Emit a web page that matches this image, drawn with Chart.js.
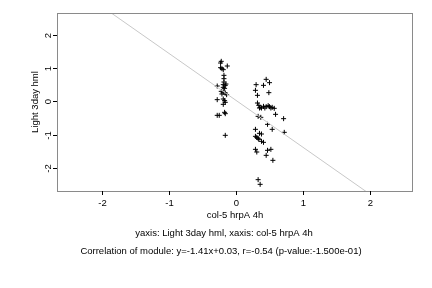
<!DOCTYPE html>
<html>
<head>
<meta charset="utf-8">
<script src="https://cdn.jsdelivr.net/npm/chart.js@4"></script>
<style>
  html, body { margin: 0; padding: 0; background: #fff; }
  #wrap { width: 432px; height: 288px; }
</style>
</head>
<body>
<div id="wrap"><canvas id="plot" width="432" height="288"></canvas></div>
<script>
// values
const xValues = [
  -0.22, -0.23, -0.13, -0.23, -0.21, -0.19, -0.18, -0.18, -0.18, -0.28,
  -0.19, -0.16, -0.15, -0.19, -0.17, -0.22, -0.19, -0.16, -0.21, -0.14,
  -0.28, -0.19, -0.17, -0.16, -0.19, -0.28, -0.25, -0.17, -0.16, -0.16,
  0.45, 0.50, 0.30, 0.41, 0.29, 0.49, 0.32, 0.32, 0.34, 0.36,
  0.38, 0.41, 0.43, 0.45, 0.48, 0.50, 0.52, 0.54, 0.57, 0.35,
  0.59, 0.71, 0.33, 0.37, 0.47, 0.54, 0.29, 0.35, 0.38, 0.72,
  0.29, 0.31, 0.33, 0.34, 0.38, 0.41, 0.29, 0.31, 0.47, 0.52,
  0.45, 0.55, 0.33, 0.36
];
const yValues = [
  1.20, 1.15, 1.06, 1.01, 0.98, 0.95, 0.78, 0.68, 0.58, 0.46,
  0.50, 0.48, 0.52, 0.42, 0.39, 0.30, 0.27, 0.25, 0.22, 0.20,
  0.05, 0.07, 0.02, -0.03, -0.09, -0.42, -0.42, -0.33, -0.37, -1.02,
  0.66, 0.56, 0.50, 0.48, 0.33, 0.26, 0.18, -0.05, -0.12, -0.18,
  -0.20, -0.15, -0.20, -0.16, -0.13, -0.16, -0.20, -0.18, -0.21, -0.20,
  -0.39, -0.52, -0.45, -0.48, -0.69, -0.84, -0.84, -0.96, -0.98, -0.93,
  -1.05, -1.08, -1.11, -1.14, -1.20, -1.23, -1.44, -1.52, -1.47, -1.44,
  -1.62, -1.77, -2.35, -2.49
];
// fitted line y = -1.41x + 0.03, endpoints at the plot edges
const fitX = [-2.67, 2.64];
const fitY = [3.79, -3.69];
const xTicks = [-2, -1, 0, 1, 2];
const yTicks = [-2, -1, 0, 1, 2];
const xTitle = 'col-5 hrpA 4h';
const yTitle = 'Light 3day hml';
const subTitle1 = 'yaxis: Light 3day hml, xaxis: col-5 hrpA 4h';
const subTitle2 = 'Correlation of module: y=-1.41x+0.03, r=-0.54 (p-value:-1.500e-01)';

const FONT = '9.5px "Liberation Sans", Arial, sans-serif';

const rAxes = {
  id: 'rAxes',
  afterDraw(chart) {
    const ctx = chart.ctx;
    const a = chart.chartArea;
    const xs = chart.scales.x, ys = chart.scales.y;
    ctx.save();
    // box
    ctx.strokeStyle = '#8a8a8a';
    ctx.lineWidth = 1;
    ctx.strokeRect(a.left + 0.5, a.top + 0.5, a.right - a.left - 1, a.bottom - a.top);
    ctx.strokeStyle = '#000';
    ctx.fillStyle = '#000';
    ctx.font = FONT;
    // x axis ticks
    ctx.textAlign = 'center';
    ctx.textBaseline = 'middle';
    xTicks.forEach(v => {
      const px = Math.round(xs.getPixelForValue(v)) + 0.5;
      ctx.beginPath();
      ctx.moveTo(px, a.bottom);
      ctx.lineTo(px, a.bottom + 4);
      ctx.stroke();
      ctx.fillText(String(v), px, 203.5);
    });
    // y axis ticks, labels rotated like R
    yTicks.forEach(v => {
      const py = Math.round(ys.getPixelForValue(v)) + 0.5;
      ctx.beginPath();
      ctx.moveTo(a.left, py);
      ctx.lineTo(a.left - 4, py);
      ctx.stroke();
      ctx.save();
      ctx.translate(48, py);
      ctx.rotate(-Math.PI / 2);
      ctx.fillText(String(v), 0, 0);
      ctx.restore();
    });
    // titles
    const cx = (a.left + a.right) / 2;
    ctx.fillText(xTitle, cx, 215);
    ctx.fillText(subTitle1, 224, 233);
    ctx.fillText(subTitle2, 221, 251);
    ctx.save();
    ctx.translate(35, (a.top + a.bottom) / 2);
    ctx.rotate(-Math.PI / 2);
    ctx.fillText(yTitle, 0, 0);
    ctx.restore();
    ctx.restore();
  }
};

new Chart(document.getElementById('plot'), {
  type: 'scatter',
  data: {
    datasets: [
      {
        label: 'fit',
        type: 'line',
        data: fitX.map((x, i) => ({ x: x, y: fitY[i] })),
        borderColor: '#c8c8c8',
        borderWidth: 1,
        pointRadius: 0,
        fill: false
      },
      {
        label: 'genes',
        data: xValues.map((x, i) => ({ x: x, y: yValues[i] })),
        pointStyle: 'cross',
        pointRadius: 2.5,
        borderColor: '#000',
        borderWidth: 1
      }
    ]
  },
  plugins: [rAxes],
  options: {
    responsive: false,
    animation: false,
    events: [],
    layout: { padding: { top: 13, right: 19, left: 0, bottom: 0 } },
    plugins: { legend: { display: false }, tooltip: { enabled: false } },
    scales: {
      x: {
        type: 'linear', min: -2.67, max: 2.64,
        ticks: { display: false },
        grid: { display: false },
        border: { display: false },
        afterFit: s => { s.height = 97; }
      },
      y: {
        type: 'linear', min: -2.69, max: 2.65,
        ticks: { display: false },
        grid: { display: false },
        border: { display: false },
        afterFit: s => { s.width = 57; }
      }
    }
  }
});
</script>
</body>
</html>
